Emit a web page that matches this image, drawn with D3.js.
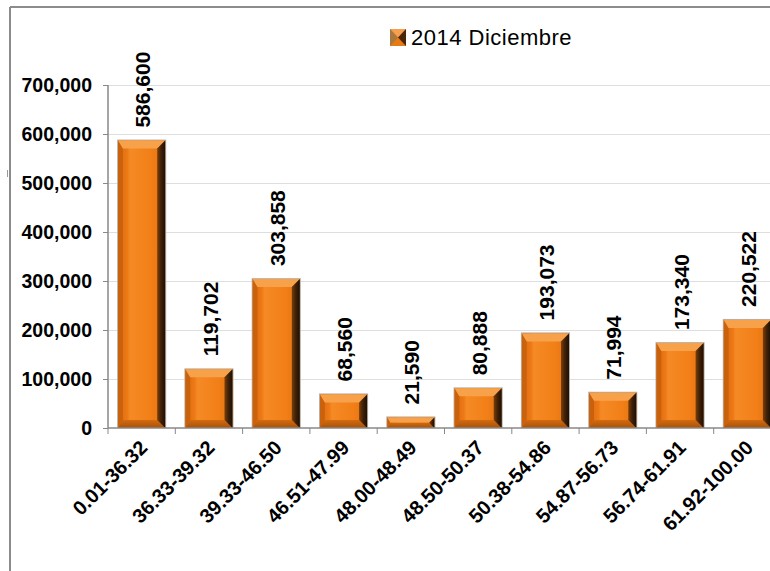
<!DOCTYPE html>
<html><head><meta charset="utf-8">
<script src="https://cdn.jsdelivr.net/npm/d3@7"></script>
<style>body{margin:0;background:#fff}svg{display:block}</style>
</head><body>
<script>
const categories = ["0.01-36.32","36.33-39.32","39.33-46.50","46.51-47.99","48.00-48.49","48.50-50.37","50.38-54.86","54.87-56.73","56.74-61.91","61.92-100.00"];
const values = [586600,119702,303858,68560,21590,80888,193073,71994,173340,220522];
const yTicks = [0,100000,200000,300000,400000,500000,600000,700000];
const seriesName = "2014 Diciembre";

const W = 770, H = 571;
const svg = d3.select("body").append("svg").attr("width", W).attr("height", H);
const defs = svg.append("defs");

const x = d3.scaleBand().domain(categories).range([108, 781]).paddingInner(0.3).paddingOuter(0.15);
const y = d3.scaleLinear().domain([0, 700000]).range([428, 85]);
const fmt = d3.format(",");
const FONT = "Liberation Sans, Arial, sans-serif";

// frame
svg.append("line").attr("x1",10).attr("x2",10).attr("y1",7).attr("y2",H).attr("stroke","#8c8c8c").attr("stroke-width",2);
svg.append("line").attr("x1",10).attr("x2",W).attr("y1",7).attr("y2",7).attr("stroke","#8c8c8c").attr("stroke-width",2);
svg.append("line").attr("x1",7.5).attr("x2",7.5).attr("y1",170).attr("y2",177).attr("stroke","#999").attr("stroke-width",1);

// gridlines
svg.append("g").selectAll("line").data(yTicks.slice(1)).join("line")
  .attr("x1",108).attr("x2",W).attr("y1",d=>Math.round(y(d))+0.5).attr("y2",d=>Math.round(y(d))+0.5)
  .attr("stroke","#dedede").attr("stroke-width",1);

// gradients
const gFace = defs.append("linearGradient").attr("id","face").attr("x1","0").attr("x2","1").attr("y1","0").attr("y2","0");
[[0,"#d96a10"],[0.2,"#ee7a16"],[0.25,"#f58a24"],[0.7,"#f27f18"],[1,"#e0700f"]].forEach(s=>gFace.append("stop").attr("offset",s[0]).attr("stop-color",s[1]));
const gRight = defs.append("linearGradient").attr("id","right").attr("x1","0").attr("x2","1").attr("y1","0").attr("y2","0");
[[0,"#7a3e08"],[0.5,"#3e2008"],[1,"#1a1006"]].forEach(s=>gRight.append("stop").attr("offset",s[0]).attr("stop-color",s[1]));
const gBot = defs.append("linearGradient").attr("id","bot").attr("x1","0").attr("x2","0").attr("y1","0").attr("y2","1");
[[0,"#d26a10"],[1,"#a85208"]].forEach(s=>gBot.append("stop").attr("offset",s[0]).attr("stop-color",s[1]));

// bars
const bw = x.bandwidth();
const bars = svg.append("g");
categories.forEach((c,i)=>{
  const x0 = x(c), x1 = x0 + bw, y0 = y(values[i]), y1 = y(0);
  const h = y1 - y0;
  const b = Math.min(8, h/2);
  const g = bars.append("g");
  g.append("rect").attr("x",x0-1).attr("y",y0-1).attr("width",bw+2).attr("height",h+1).attr("fill","#b9b0a8");
  g.append("rect").attr("x",x0).attr("y",y0).attr("width",bw).attr("height",h).attr("fill","url(#face)");
  g.append("polygon").attr("points",[[x0,y0],[x0+b*0.6,y0+b],[x0+b*0.6,y1-b],[x0,y1]].join(" ")).attr("fill","#c9610d");
  g.append("polygon").attr("points",[[x0,y0],[x1,y0],[x1-b,y0+b],[x0+b*0.6,y0+b]].join(" ")).attr("fill","#f7a24a");
  g.append("polygon").attr("points",[[x0,y1],[x0+b*0.6,y1-b],[x1-b,y1-b],[x1,y1]].join(" ")).attr("fill","url(#bot)");
  g.append("polygon").attr("points",[[x1,y0],[x1,y1],[x1-b,y1-b],[x1-b,y0+b]].join(" ")).attr("fill","url(#right)");
});

// axes
const yAxis = svg.append("g").attr("transform","translate(108,0)")
  .call(d3.axisLeft(y).tickValues(yTicks).tickFormat(fmt).tickSize(5).tickPadding(11));
yAxis.select(".domain").attr("stroke","#888").attr("stroke-width",1.5).attr("d","M0,85V428");
yAxis.selectAll(".tick line").attr("stroke","#888");
yAxis.selectAll("text").attr("font-family",FONT).attr("font-weight","bold").attr("font-size",19.5).attr("fill","#000");

const xAxis = svg.append("g").attr("transform","translate(0,428)")
  .call(d3.axisBottom(x).tickSize(0).tickPadding(0));
xAxis.select(".domain").attr("stroke","#888").attr("stroke-width",1.5).attr("d","M108,0H"+W);
xAxis.selectAll(".tick text")
  .attr("font-family",FONT).attr("font-weight","bold").attr("font-size",20).attr("fill","#000")
  .attr("text-anchor","end").attr("dy","0.35em")
  .attr("transform","translate(2,16) rotate(-45)");
svg.append("g").selectAll("line").data(categories).join("line")
  .attr("x1",d=>x(d)-x.step()*x.paddingOuter()).attr("x2",d=>x(d)-x.step()*x.paddingOuter())
  .attr("y1",428).attr("y2",434).attr("stroke","#888");

// value labels
svg.append("g").selectAll("text").data(categories).join("text")
  .attr("transform",(d,i)=>`translate(${x(d)+bw/2+1},${y(values[i])-13}) rotate(-90)`)
  .attr("dy","0.36em").attr("text-anchor","start")
  .attr("font-family",FONT).attr("font-weight","bold").attr("font-size",21)
  .text((d,i)=>fmt(values[i]));

// legend
const lg = svg.append("g").attr("transform","translate(390,29)");
lg.append("rect").attr("width",16).attr("height",17).attr("fill","#e87a14");
lg.append("polygon").attr("points","0,0 16,0 8,8.5").attr("fill","#f4a050");
lg.append("polygon").attr("points","16,0 16,17 8,8.5").attr("fill","#4a2508");
lg.append("polygon").attr("points","0,0 0,17 8,8.5").attr("fill","#a8783f");
lg.append("text").attr("x",21).attr("y",16).attr("font-family",FONT).attr("font-size",22).attr("letter-spacing",0.5).attr("fill","#000").text(seriesName);
</script>
</body></html>
